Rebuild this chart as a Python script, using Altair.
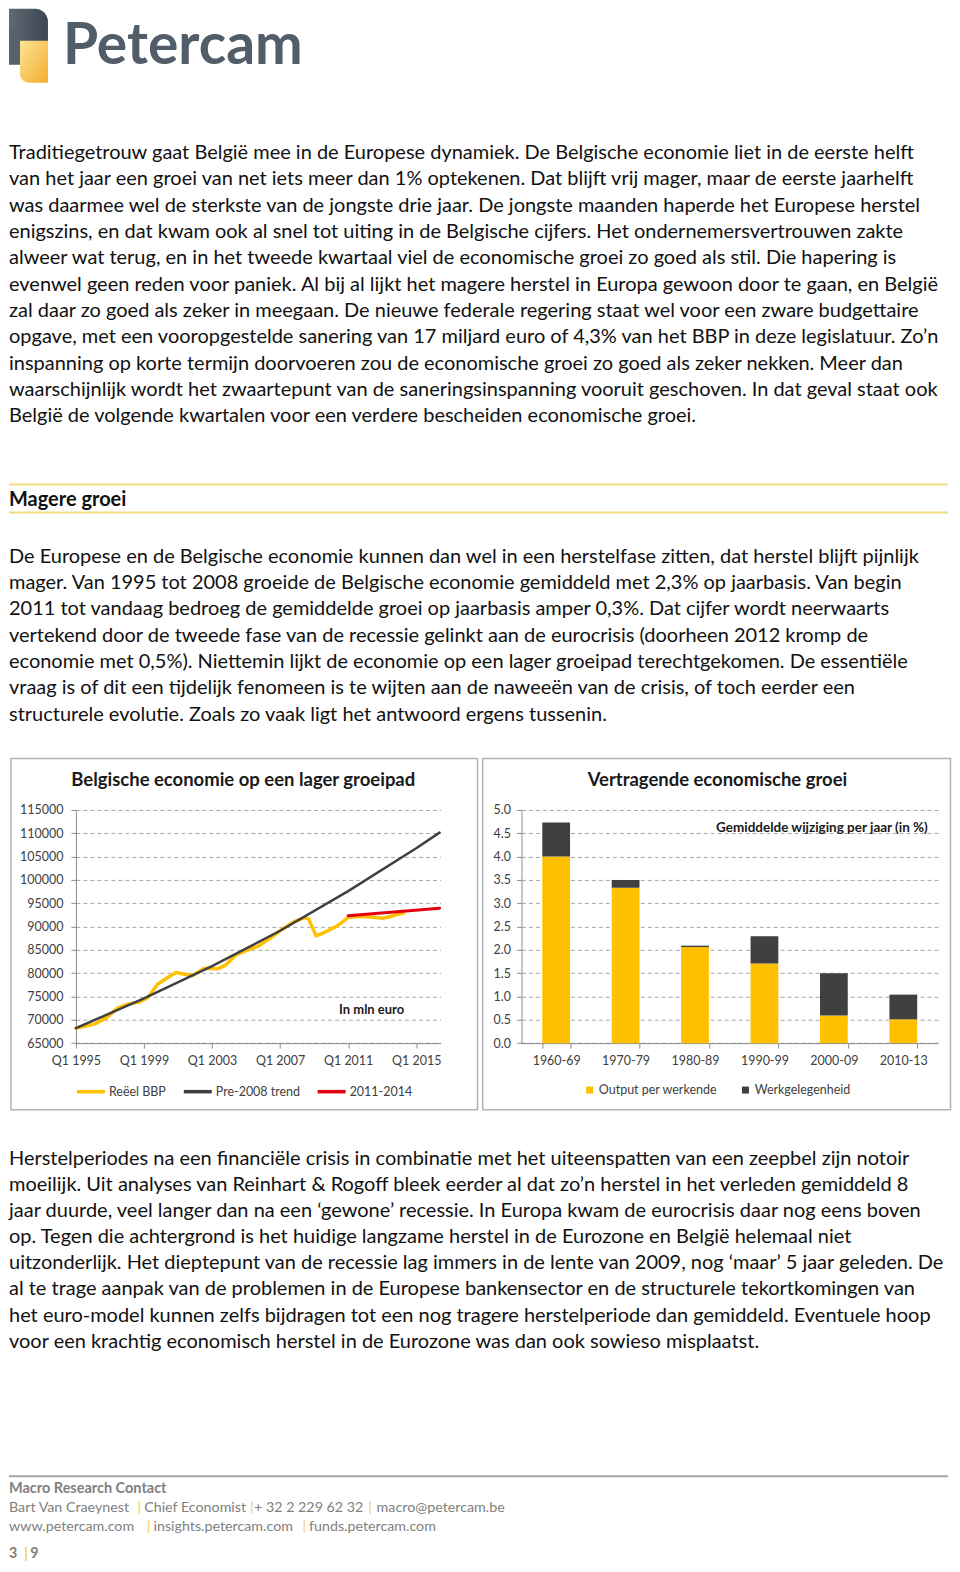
import altair as alt
import pandas as pd

FONT = "Lato"

# ---------------- text content ----------------
logo_word = ["Petercam"]

para1 = [
    "Traditiegetrouw gaat België mee in de Europese dynamiek. De Belgische economie liet in de eerste helft",
    "van het jaar een groei van net iets meer dan 1% optekenen. Dat blijft vrij mager, maar de eerste jaarhelft",
    "was daarmee wel de sterkste van de jongste drie jaar. De jongste maanden haperde het Europese herstel",
    "enigszins, en dat kwam ook al snel tot uiting in de Belgische cijfers. Het ondernemersvertrouwen zakte",
    "alweer wat terug, en in het tweede kwartaal viel de economische groei zo goed als stil. Die hapering is",
    "evenwel geen reden voor paniek. Al bij al lijkt het magere herstel in Europa gewoon door te gaan, en België",
    "zal daar zo goed als zeker in meegaan. De nieuwe federale regering staat wel voor een zware budgettaire",
    "opgave, met een vooropgestelde sanering van 17 miljard euro of 4,3% van het BBP in deze legislatuur. Zo’n",
    "inspanning op korte termijn doorvoeren zou de economische groei zo goed als zeker nekken. Meer dan",
    "waarschijnlijk wordt het zwaartepunt van de saneringsinspanning vooruit geschoven. In dat geval staat ook",
    "België de volgende kwartalen voor een verdere bescheiden economische groei.",
]

heading = ["Magere groei"]

para2 = [
    "De Europese en de Belgische economie kunnen dan wel in een herstelfase zitten, dat herstel blijft pijnlijk",
    "mager. Van 1995 tot 2008 groeide de Belgische economie gemiddeld met 2,3% op jaarbasis. Van begin",
    "2011 tot vandaag bedroeg de gemiddelde groei op jaarbasis amper 0,3%. Dat cijfer wordt neerwaarts",
    "vertekend door de tweede fase van de recessie gelinkt aan de eurocrisis (doorheen 2012 kromp de",
    "economie met 0,5%). Niettemin lijkt de economie op een lager groeipad terechtgekomen. De essentiële",
    "vraag is of dit een tijdelijk fenomeen is te wijten aan de naweeën van de crisis, of toch eerder een",
    "structurele evolutie. Zoals zo vaak ligt het antwoord ergens tussenin.",
]

para3 = [
    "Herstelperiodes na een financiële crisis in combinatie met het uiteenspatten van een zeepbel zijn notoir",
    "moeilijk. Uit analyses van Reinhart & Rogoff bleek eerder al dat zo’n herstel in het verleden gemiddeld 8",
    "jaar duurde, veel langer dan na een ‘gewone’ recessie. In Europa kwam de eurocrisis daar nog eens boven",
    "op. Tegen die achtergrond is het huidige langzame herstel in de Eurozone en België helemaal niet",
    "uitzonderlijk. Het dieptepunt van de recessie lag immers in de lente van 2009, nog ‘maar’ 5 jaar geleden. De",
    "al te trage aanpak van de problemen in de Europese bankensector en de structurele tekortkomingen van",
    "het euro-model kunnen zelfs bijdragen tot een nog tragere herstelperiode dan gemiddeld. Eventuele hoop",
    "voor een krachtig economisch herstel in de Eurozone was dan ook sowieso misplaatst.",
]

footer_title = ["Macro Research Contact"]
footer_line2 = ["Bart Van Craeynest", "|", "Chief Economist", "|", "+ 32 2 229 62 32", "|", "macro@petercam.be"]
footer_line3 = ["www.petercam.com", "|", "insights.petercam.com", "|", "funds.petercam.com"]
page_number = ["3", "|", "9"]

# ---------------- chart data ----------------
left_title = ["Belgische economie op een lager groeipad"]
left_note = ["In mln euro"]
series_names = ["Reëel BBP", "Pre-2008 trend", "2011-2014"]
x_tick_years = [1995, 1999, 2003, 2007, 2011, 2015]
y_ticks_left = [65000, 70000, 75000, 80000, 85000, 90000, 95000, 100000, 105000, 110000, 115000]

bbp_year = [1995.0, 1996.08, 1996.76, 1997.45, 1998.04, 1998.73, 1999.22, 1999.80, 2000.39,
            2000.88, 2001.37, 2001.86, 2002.55, 2003.33, 2003.82, 2004.41, 2005.10, 2005.78,
            2006.47, 2007.06, 2007.84, 2008.43, 2008.67, 2009.12, 2009.51, 2009.90, 2010.29,
            2010.69, 2011.02, 2011.76, 2012.45, 2013.04, 2013.53, 2013.92, 2014.25]
bbp_value = [68200, 69070, 70360, 72500, 73360, 73790, 74790, 77640, 79070,
             80140, 79790, 79500, 81070, 80930, 81790, 83930, 85000, 85930,
             87640, 89290, 91070, 91930, 91640, 88000, 88570, 89290, 90000,
             91070, 92000, 92210, 92000, 91790, 92210, 92640, 92900]

trend_year = [1995.0, 1999.0, 2003.0, 2007.0, 2011.0, 2015.0, 2016.37]
trend_value = [68200, 74600, 81500, 89100, 97600, 106800, 110150]

red_year = [2011.0, 2016.37]
red_value = [92300, 93930]

right_title = ["Vertragende economische groei"]
right_note = ["Gemiddelde wijziging  per jaar  (in %)"]
periods = ["1960-69", "1970-79", "1980-89", "1990-99", "2000-09", "2010-13"]
bar_series = ["Output per werkende", "Werkgelegenheid"]
output_per_worker = [4.00, 3.33, 2.06, 1.71, 0.59, 0.51]
employment = [0.73, 0.17, 0.03, 0.58, 0.91, 0.53]
y_ticks_right = [0.0, 0.5, 1.0, 1.5, 2.0, 2.5, 3.0, 3.5, 4.0, 4.5, 5.0]

# ---------------- styles / layout ----------------
TEXT_COLOR = "#111111"
GRAY_TEXT = "#7f7f7f"
PIPE = "#f3cf4f"
RULE_YELLOW = "#f2dc80"
GOLD = "#FFC000"
DARK = "#404040"
RED = "#E3000F"
W = 940
LINE_STEP = 26.36
BODY_SIZE = 20
FOOT_SIZE = 14.3

footer2_x = [0, 128.7, 135.3, 241.3, 245.3, 359.7, 368]
footer3_x = [0, 138, 144.7, 293.7, 300.3]
page_x = [0, 15.3, 21.3]

one = pd.DataFrame({"a": [0]})


def text_block(lines, y0, step=LINE_STEP, size=BODY_SIZE, weight="normal", color=TEXT_COLOR):
    df = pd.DataFrame({"t": lines, "i": list(range(len(lines)))})
    return alt.Chart(df).mark_text(
        align="left", baseline="middle", font=FONT, fontSize=size, fontWeight=weight, color=color
    ).encode(
        x=alt.value(0),
        y=alt.Y("i:Q", axis=None,
                scale=alt.Scale(domain=[0, 1], range=[y0, y0 + step], nice=False, zero=False)),
        text="t:N",
    )


def segments(parts, xs, y, size, weight, base_color):
    df = pd.DataFrame({"t": parts, "x": xs})
    return alt.Chart(df).mark_text(
        align="left", baseline="middle", font=FONT, fontSize=size, fontWeight=weight
    ).encode(
        x=alt.X("x:Q", scale=None, axis=None),
        y=alt.value(y),
        text="t:N",
        color=alt.condition(alt.datum.t == "|", alt.value(PIPE), alt.value(base_color)),
    )


def hrule(y, color, width):
    return alt.Chart(one).mark_rule(color=color, strokeWidth=width).encode(
        x=alt.value(0), x2=alt.value(W), y=alt.value(y)
    )


def label(texts, x, y, size, weight="bold", color="#1a1a1a"):
    df = pd.DataFrame({"t": texts})
    return alt.Chart(df).mark_text(
        align="center", baseline="middle", font=FONT, fontSize=size, fontWeight=weight, color=color
    ).encode(x=alt.value(x), y=alt.value(y), text="t:N")


def frame(x0, x1, y0, y1):
    return alt.Chart(one).mark_rect(
        fillOpacity=0, stroke="#b3b3b3", strokeWidth=1.5
    ).encode(x=alt.value(x0), x2=alt.value(x1), y=alt.value(y0), y2=alt.value(y1))


# ---------------- top section (page y 8 -> 756.7) ----------------
dark_grad = alt.Gradient(
    gradient="linear",
    stops=[alt.GradientStop(color="#5f6a75", offset=0), alt.GradientStop(color="#3c4650", offset=1)],
    x1=0, x2=1, y1=0, y2=0,
)
yellow_grad = alt.Gradient(
    gradient="linear",
    stops=[alt.GradientStop(color="#fde496", offset=0), alt.GradientStop(color="#f2ad2e", offset=1)],
    x1=0, x2=1, y1=0, y2=1,
)
icon_top = alt.Chart(one).mark_rect(color=dark_grad, cornerRadiusTopRight=13).encode(
    x=alt.value(0), x2=alt.value(39), y=alt.value(0), y2=alt.value(34))
icon_stem = alt.Chart(one).mark_rect(color="#56616c").encode(
    x=alt.value(0), x2=alt.value(12), y=alt.value(20), y2=alt.value(56))
icon_yellow = alt.Chart(one).mark_rect(color=yellow_grad, cornerRadiusBottomLeft=9).encode(
    x=alt.value(11), x2=alt.value(39), y=alt.value(32), y2=alt.value(74))
logo_text = alt.Chart(pd.DataFrame({"t": logo_word})).mark_text(
    align="left", baseline="alphabetic", font=FONT, fontSize=57, fontWeight="bold", color="#515d68"
).encode(x=alt.value(54), y=alt.value(55), text="t:N")

top = alt.layer(
    icon_top, icon_stem, icon_yellow, logo_text,
    text_block(para1, 144.4),
    hrule(476.2, RULE_YELLOW, 2),
    text_block(heading, 491.3, weight="bold"),
    hrule(504.3, RULE_YELLOW, 2),
    text_block(para2, 548.4, step=26.4),
).resolve_scale(y="independent").properties(width=W, height=748.7)

# ---------------- left chart ----------------
line_x = alt.X(
    "x:Q",
    scale=alt.Scale(domain=[1995, 2016.43], nice=False, zero=False),
    axis=alt.Axis(values=x_tick_years, labelExpr="'Q1 ' + datum.value", title=None, grid=False,
                  tickSize=5, labelPadding=6, labelFlush=False, labelOverlap=False),
)
line_y = alt.Y(
    "v:Q",
    scale=alt.Scale(domain=[65000, 115000], nice=False, zero=False),
    axis=alt.Axis(values=y_ticks_left, format="d", title=None, grid=True, tickSize=5, labelPadding=8),
)
line_colors = alt.Scale(domain=series_names, range=[GOLD, DARK, RED])
line_legend = alt.Legend(
    orient="none", legendX=-1, legendY=266, direction="horizontal", title=None,
    symbolType="stroke", symbolSize=784, symbolStrokeWidth=3.5, labelFontSize=12.5,
    labelColor="#404040", labelFont=FONT, columnPadding=10, labelOffset=2, padding=0,
)


def line_layer(xs, vs, name, width):
    df = pd.DataFrame({"x": xs, "v": vs, "s": name})
    return alt.Chart(df).mark_line(strokeWidth=width, strokeJoin="round", strokeCap="round").encode(
        x=line_x, y=line_y, color=alt.Color("s:N", scale=line_colors, legend=line_legend)
    )


left = alt.layer(
    frame(-65, 402, -51.6, 300),
    label(left_title, 167.5, -29.5, 18.5),
    label(left_note, 296, 200, 13),
    line_layer(bbp_year, bbp_value, series_names[0], 3.5),
    line_layer(trend_year, trend_value, series_names[1], 2.5),
    line_layer(red_year, red_value, series_names[2], 3),
).properties(width=365, height=233.4)

# ---------------- right chart ----------------
bar_df = pd.DataFrame({
    "p": periods + periods,
    "v": output_per_worker + employment,
    "s": [bar_series[0]] * len(periods) + [bar_series[1]] * len(periods),
    "k": [0] * len(periods) + [1] * len(periods),
})
bars = alt.Chart(bar_df).mark_bar().encode(
    x=alt.X("p:N", sort=periods, scale=alt.Scale(paddingInner=0.6, paddingOuter=0.3),
            axis=alt.Axis(title=None, tickBand="extent", labelAngle=0, tickSize=5, labelPadding=6, grid=False)),
    y=alt.Y("v:Q", stack="zero", scale=alt.Scale(domain=[0, 5], nice=False),
            axis=alt.Axis(values=y_ticks_right, format=".1f", title=None, grid=True, tickSize=5, labelPadding=6)),
    color=alt.Color("s:N", scale=alt.Scale(domain=bar_series, range=[GOLD, DARK]),
                    legend=alt.Legend(orient="none", legendX=62, legendY=274, direction="horizontal", title=None,
                                      symbolType="square", symbolSize=49, symbolStrokeWidth=0,
                                      labelFontSize=12.5, labelColor="#404040", labelFont=FONT,
                                      columnPadding=22, labelOffset=3, padding=0)),
    order=alt.Order("k:Q"),
)

right = alt.layer(
    frame(-38.8, 429.5, -51.6, 300),
    label(right_title, 196.2, -29.5, 18.5),
    label(right_note, 300.8, 17.7, 13.5),
    bars,
).properties(width=417, height=233.4)


def spacer(w):
    return alt.Chart(pd.DataFrame({"t": [""]})).mark_text().encode(text="t:N").properties(width=w, height=233.4)


charts = alt.hconcat(
    spacer(67), left, spacer(80.5), right, spacing=0, bounds="flush"
).resolve_scale(color="independent").resolve_legend(color="independent")

# ---------------- bottom section (page y 1109 -> ) ----------------
bottom = alt.layer(
    text_block(para3, 48, step=26.2),
    hrule(366, "#a6a6a6", 2),
    text_block(footer_title, 378.7, size=14.5, weight="bold", color=GRAY_TEXT),
    segments(footer_line2, footer2_x, 397.7, FOOT_SIZE, "normal", GRAY_TEXT),
    segments(footer_line3, footer3_x, 417, FOOT_SIZE, "normal", GRAY_TEXT),
    segments(page_number, page_x, 444, FOOT_SIZE, "bold", GRAY_TEXT),
).resolve_scale(y="independent").properties(width=W, height=420)

chart = alt.vconcat(top, charts, bottom, spacing=0, bounds="full").resolve_scale(
    color="independent"
).resolve_legend(color="independent").properties(
    padding=0
).configure(font=FONT).configure_view(stroke=None).configure_axis(
    domainColor="#8c8c8c", tickColor="#8c8c8c", labelColor="#404040", labelFont=FONT,
    labelFontSize=12.5, gridColor="#a6a6a6", gridDash=[4, 3], gridWidth=1,
)

chart.save("out.html", embed_options={"renderer": "svg", "actions": False})
